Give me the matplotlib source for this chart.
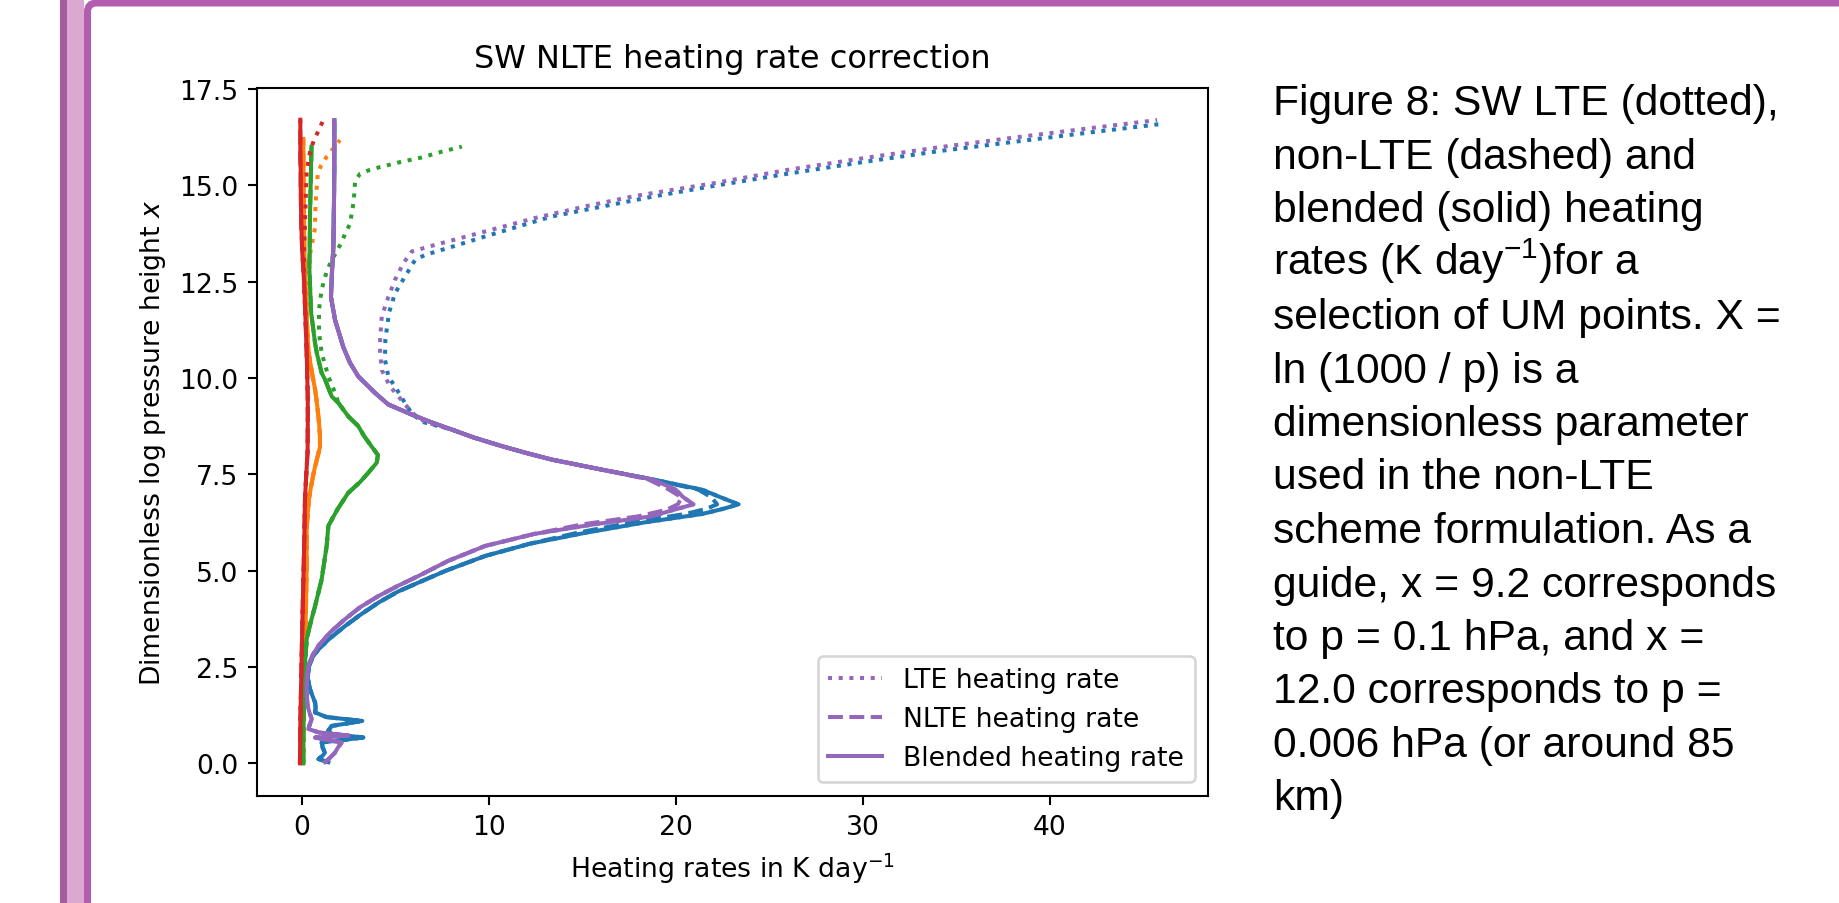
import numpy as np
import matplotlib
matplotlib.use('Agg')
import matplotlib.pyplot as plt
from matplotlib.patches import Rectangle, FancyBboxPatch
from matplotlib.transforms import IdentityTransform

# ---- data (x = heating rate, y = log pressure height) ----
# blue profile
blue_y = [0.03, 0.11, 0.2, 0.28, 0.4, 0.54, 0.67, 0.76, 0.85, 0.97,
          1.1, 1.2, 1.32, 1.45, 1.58, 1.75, 1.92, 2.2, 2.5, 2.75,
          2.96, 3.25, 3.56, 3.85, 4.17, 4.45, 4.69, 5.0, 5.38, 5.7,
          5.98, 6.25, 6.47, 6.6, 6.72, 6.9, 7.1, 7.37, 7.62, 7.88,
          8.05, 8.23, 8.45, 8.66, 8.85, 9.05, 9.31, 9.61, 10.04, 10.4,
          10.8, 11.2, 11.5, 12.1, 12.8, 13.4, 14.5, 15.5, 16.69]
blue_blend = [1.4, 0.87, 1.1, 1.22, 1.1, 1.04, 3.27, 1.6, 1.4, 1.58,
              3.22, 1.3, 0.69, 0.72, 0.69, 0.55, 0.42, 0.3, 0.35, 0.55,
              0.87, 1.5, 2.29, 3.1, 4.08, 5.1, 6.22, 7.7, 9.79, 12.2,
              15.14, 18.3, 21.4, 22.5, 23.35, 22.4, 21.4, 18.7, 16.03, 13.36,
              12.0, 10.68, 9.2, 8.0, 6.9, 5.86, 4.61, 3.9, 3.0, 2.55,
              2.2, 1.95, 1.76, 1.54, 1.6, 1.67, 1.7, 1.72, 1.72]
blue_nlte = blue_blend[:30] + [14.7, 17.6, 20.5, 21.6, 22.2, 21.9, 21.2] + blue_blend[37:]
blue_lte_tail_y = [8.85, 9.05, 9.35, 9.7, 10.04, 10.47, 11.0, 11.7, 12.2, 12.63,
                   13.06, 13.19, 13.4, 13.67, 13.93, 14.19, 14.36, 14.53, 14.7, 14.98,
                   15.3, 15.6, 15.88, 16.12, 16.36, 16.6]
blue_lte_tail_x = [6.5, 5.9, 5.5, 5.06, 4.61, 4.43, 4.45, 4.65, 4.97, 5.5,
                   6.04, 6.57, 8.0, 9.79, 11.57, 13.36, 15.14, 16.93, 18.71, 22.0,
                   26.0, 30.0, 34.0, 38.0, 42.0, 46.15]

# purple profile
purple_y = [0.03, 0.15, 0.28, 0.4, 0.54, 0.62, 0.67, 0.72, 0.8, 0.89,
            1.0, 1.15, 1.3, 1.49, 1.75, 2.01, 2.25, 2.53, 2.8, 3.05,
            3.4, 3.74, 4.05, 4.34, 4.6, 4.86, 5.25, 5.64, 5.95, 6.2,
            6.41, 6.58, 6.72, 6.9, 7.11, 7.37, 7.62, 7.88, 8.05, 8.23,
            8.45, 8.66, 8.85, 9.05, 9.31, 9.61, 10.04, 10.4, 10.8, 11.2,
            11.5, 12.1, 12.8, 13.4, 14.5, 15.5, 16.69]
purple_blend = [1.22, 1.5, 1.76, 1.9, 2.11, 1.2, 0.69, 2.47, 0.9, 0.33,
                0.4, 0.51, 0.4, 0.29, 0.25, 0.24, 0.26, 0.33, 0.55, 0.87,
                1.5, 2.29, 3.1, 4.08, 5.1, 6.22, 7.8, 9.79, 12.4, 15.6,
                18.7, 19.9, 20.94, 20.4, 19.96, 18.7, 16.03, 13.36, 12.0, 10.68,
                9.2, 8.0, 6.9, 5.86, 4.61, 3.9, 3.0, 2.55, 2.2, 1.95,
                1.76, 1.54, 1.6, 1.67, 1.7, 1.72, 1.72]
purple_nlte = purple_blend[:29] + [15.0, 18.0, 19.5, 20.1, 20.3, 19.6, 18.5] + purple_blend[36:]
purple_lte_tail_y = [8.85, 9.05, 9.31, 9.52, 9.78, 10.2, 10.65, 11.0, 11.6, 12.1,
                     12.55, 12.98, 13.28, 13.45, 13.8, 14.15, 14.45, 14.72, 15.05, 15.4,
                     15.7, 15.98, 16.23, 16.47, 16.69]
purple_lte_tail_x = [6.6, 6.0, 5.5, 5.15, 4.7, 4.26, 4.17, 4.17, 4.26, 4.61,
                     4.97, 5.42, 5.86, 7.1, 9.79, 12.47, 15.14, 17.8, 22.0, 26.0,
                     30.0, 34.0, 38.0, 42.0, 45.74]

# green profile
green_y = [0.0, 0.8, 1.5, 2.36, 3.22, 3.65, 4.08, 4.77, 5.64, 6.16,
           6.6, 7.02, 7.3, 7.54, 7.8, 8.0, 8.23, 8.5, 8.75, 9.0,
           9.35, 9.52, 9.96, 10.13, 10.65, 10.9, 11.69, 12.03, 12.9, 13.3,
           14.27, 16.0]
green_blend = [0.06, 0.06, 0.08, 0.12, 0.24, 0.45, 0.69, 1.04, 1.31, 1.4,
               1.9, 2.47, 3.1, 3.54, 3.99, 4.05, 3.7, 3.3, 3.0, 2.47,
               1.94, 1.58, 1.22, 1.04, 0.78, 0.69, 0.48, 0.45, 0.38, 0.4,
               0.42, 0.5]
green_lte_tail_y = [9.61, 10.04, 10.65, 11.17, 11.77, 12.29, 12.76, 13.06, 13.28, 13.5,
                    13.77, 14.0, 14.27, 14.53, 14.79, 15.1, 15.3, 15.4, 15.47, 15.6,
                    15.72, 15.87, 16.0]
green_lte_tail_x = [1.76, 1.4, 1.04, 0.9, 0.9, 1.04, 1.31, 1.58, 1.85, 2.08,
                    2.33, 2.56, 2.65, 2.74, 2.79, 2.83, 3.1, 3.63, 4.17, 5.24,
                    6.4, 7.47, 8.54]

# orange profile
orange_y = [0.0, 1.0, 2.0, 3.0, 4.0, 5.1, 6.07, 6.5, 6.85, 7.2,
            7.5, 7.7, 7.95, 8.2, 8.5, 8.84, 9.3, 9.7, 10.2, 10.7,
            11.5, 12.5, 13.3, 14.0, 15.0, 16.2]
orange_blend = [0.05, 0.07, 0.1, 0.15, 0.2, 0.24, 0.24, 0.3, 0.36, 0.48,
                0.6, 0.69, 0.82, 0.95, 0.95, 0.9, 0.8, 0.69, 0.5, 0.33,
                0.25, 0.16, 0.12, 0.1, 0.08, 0.06]
orange_lte_tail_y = [12.5, 13.3, 13.9, 14.2, 14.7, 14.96, 15.27, 15.5, 15.74, 16.17]
orange_lte_tail_x = [0.3, 0.45, 0.69, 0.69, 0.74, 0.78, 0.83, 1.0, 1.31, 2.02]

# red profile
red_y = [0.0, 1.0, 2.0, 3.4, 4.5, 5.5, 6.85, 7.5, 8.1, 8.8,
         9.44, 10.5, 11.5, 12.5, 13.3, 14.0, 15.0, 15.4, 15.7, 16.0,
         16.3, 16.7]
red_blend = [-0.12, -0.1, -0.06, 0.0, 0.05, 0.1, 0.15, 0.22, 0.29, 0.3,
             0.3, 0.25, 0.18, 0.1, 0.0, -0.05, -0.08, -0.08, -0.1, -0.1,
             -0.1, -0.1]
red_lte_tail_y = [13.3, 14.0, 14.8, 15.35, 15.61, 15.87, 16.17, 16.41, 16.69]
red_lte_tail_x = [0.1, 0.15, 0.2, 0.24, 0.33, 0.42, 0.63, 0.87, 1.13]

caption = ['Figure 8: SW LTE (dotted),',
           'non-LTE (dashed) and',
           'blended (solid) heating',
           'rates (K day$^{-1}$)for a',
           'selection of UM points. X =',
           'ln (1000 / p) is a',
           'dimensionless parameter',
           'used in the non-LTE',
           'scheme formulation. As a',
           'guide, x = 9.2 corresponds',
           'to p = 0.1 hPa, and x =',
           '12.0 corresponds to p =',
           '0.006 hPa (or around 85',
           'km)']

# (lte x, lte y, nlte x, nlte y, blended x, blended y) in the plotting order C0..C4
profiles = [
    (blue_blend[:44] + blue_lte_tail_x, blue_y[:44] + blue_lte_tail_y,
     blue_nlte, blue_y, blue_blend, blue_y),
    (orange_blend[:21] + orange_lte_tail_x, orange_y[:21] + orange_lte_tail_y,
     orange_blend, orange_y, orange_blend, orange_y),
    (green_blend[:21] + green_lte_tail_x, green_y[:21] + green_lte_tail_y,
     green_blend, green_y, green_blend, green_y),
    (red_blend[:14] + red_lte_tail_x, red_y[:14] + red_lte_tail_y,
     red_blend, red_y, red_blend, red_y),
    (purple_blend[:42] + purple_lte_tail_x, purple_y[:42] + purple_lte_tail_y,
     purple_nlte, purple_y, purple_blend, purple_y),
]

plt.rcParams['mathtext.fontset'] = 'dejavusans'
plt.rcParams['mathtext.rm'] = 'Liberation Sans'
plt.rcParams['mathtext.it'] = 'Liberation Sans:italic'
plt.rcParams['mathtext.bf'] = 'Liberation Sans:bold'

W, H = 1840, 904
fs = 19.2
lw = 2.9

fig = plt.figure(figsize=(W / 100, H / 100), dpi=100)
ax = fig.add_axes([256.7 / W, 1 - 796.5 / H, (1208 - 256.7) / W, (796.5 - 88.5) / H])

for i, (lx, ly, nx, ny, bx, by) in enumerate(profiles):
    c = 'C%d' % i
    last = i == len(profiles) - 1
    ax.plot(lx, ly, ':', color=c, lw=lw, label='LTE heating rate' if last else None)
    ax.plot(nx, ny, '--', color=c, lw=lw, label='NLTE heating rate' if last else None)
    ax.plot(bx, by, '-', color=c, lw=lw, label='Blended heating rate' if last else None)

ax.set_title('SW NLTE heating rate correction', fontsize=23, pad=15)
ax.set_xlabel('Heating rates in K day$^{-1}$', fontsize=fs, labelpad=7.7)
ax.set_ylabel('Dimensionless log pressure height $x$', fontsize=fs, labelpad=7.7)
ax.tick_params(labelsize=fs, length=6.7, width=1.5, pad=6.7)
for s in ax.spines.values():
    s.set_linewidth(1.5)
leg = ax.legend(loc='lower right', fontsize=fs)
leg.get_frame().set_linewidth(1.9)

# caption on the right
for k, line in enumerate(caption):
    base = 115 + k * 53.5
    fig.text(1273 / W, 1 - base / H, line, fontsize=30.7, va='baseline', ha='left',
             family=['Liberation Sans', 'DejaVu Sans'], math_fontfamily='custom')

# purple page frame on the left / top
fig.add_artist(Rectangle((60, 0), 7, H, transform=IdentityTransform(),
                         facecolor='#A65B9B', edgecolor='none'))
fig.add_artist(Rectangle((67, 0), 17, H, transform=IdentityTransform(),
                         facecolor='#D9A9D2', edgecolor='none'))
fig.add_artist(FancyBboxPatch((87.5, -100), 2000, H - 4 + 100,
                              boxstyle='round,pad=0,rounding_size=9',
                              transform=IdentityTransform(),
                              facecolor='none', edgecolor='#B45CAD', linewidth=5.04))

fig.savefig('out.png', dpi=100)
